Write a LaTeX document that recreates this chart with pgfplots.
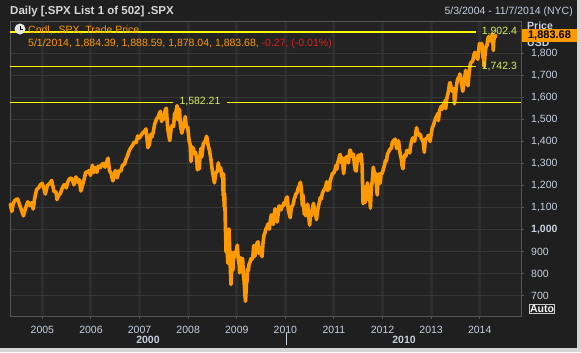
\documentclass[border=0pt]{standalone}
\usepackage{pgfplots}
\pgfplotsset{compat=1.18}
\usepackage{fontspec}
\setmainfont{Liberation Sans}
\definecolor{bgouter}{RGB}{31,31,31}
\definecolor{bgplot}{RGB}{35,35,35}
\definecolor{gridv}{RGB}{45,45,45}
\definecolor{gridh}{RGB}{54,54,54}
\definecolor{framec}{RGB}{85,85,85}
\definecolor{lbl}{RGB}{200,208,222}
\definecolor{titlec}{RGB}{215,215,215}
\definecolor{candle}{RGB}{255,153,0}
\definecolor{hline}{RGB}{250,250,0}
\definecolor{ylbl}{RGB}{215,240,90}
\definecolor{neg}{RGB}{225,30,30}
\newcommand\fs{\fontsize{10.5bp}{12bp}\selectfont}
\pgfplotstableread{
t v
2004.34 1117
2004.37 1084
2004.40 1121
2004.44 1136
2004.49 1141
2004.53 1115
2004.56 1096
2004.61 1064
2004.66 1104
2004.70 1128
2004.74 1111
2004.78 1124
2004.81 1095
2004.84 1143
2004.88 1183
2004.92 1191
2004.96 1206
2004.995 1212
2005.03 1190
2005.06 1163
2005.10 1202
2005.15 1211
2005.19 1225
2005.24 1174
2005.28 1173
2005.30 1138
2005.33 1156
2005.37 1166
2005.41 1191
2005.45 1206
2005.49 1191
2005.53 1222
2005.57 1236
2005.61 1232
2005.65 1205
2005.69 1241
2005.74 1215
2005.76 1228
2005.79 1177
2005.82 1199
2005.86 1231
2005.89 1262
2005.93 1263
2005.96 1270
2005.99 1248
2006.03 1294
2006.06 1261
2006.09 1283
2006.12 1262
2006.15 1290
2006.19 1283
2006.22 1297
2006.25 1302
2006.29 1285
2006.32 1309
2006.35 1326
2006.38 1270
2006.41 1259
2006.45 1223
2006.48 1250
2006.50 1270
2006.54 1237
2006.57 1268
2006.61 1266
2006.65 1295
2006.69 1299
2006.72 1321
2006.75 1336
2006.79 1362
2006.83 1377
2006.86 1386
2006.89 1400
2006.93 1397
2006.96 1427
2006.995 1418
2007.03 1430
2007.06 1440
2007.10 1448
2007.13 1459
2007.16 1399
2007.17 1374
2007.20 1387
2007.23 1435
2007.25 1421
2007.28 1444
2007.31 1480
2007.35 1505
2007.38 1512
2007.41 1531
2007.43 1539
2007.45 1493
2007.48 1512
2007.50 1504
2007.53 1548
2007.55 1553
2007.58 1458
2007.60 1433
2007.62 1406
2007.65 1463
2007.67 1474
2007.70 1471
2007.72 1529
2007.74 1526
2007.77 1565
2007.79 1500
2007.82 1549
2007.84 1475
2007.87 1440
2007.90 1469
2007.94 1515
2007.96 1468
2007.99 1468
2008.02 1404
2008.04 1390
2008.06 1311
2008.08 1378
2008.11 1367
2008.13 1349
2008.15 1353
2008.17 1331
2008.19 1273
2008.21 1330
2008.23 1277
2008.24 1330
2008.26 1370
2008.28 1332
2008.31 1390
2008.33 1397
2008.36 1410
2008.38 1426
2008.41 1385
2008.44 1360
2008.47 1318
2008.49 1280
2008.52 1239
2008.54 1214
2008.57 1260
2008.60 1267
2008.62 1305
2008.64 1277
2008.67 1282
2008.69 1242
2008.71 1252
2008.72 1156
2008.73 1255
2008.74 1106
2008.75 1166
2008.77 985
2008.78 899
2008.785 1003
2008.80 907
2008.82 848
2008.83 968
2008.84 1005
2008.86 873
2008.88 752
2008.89 800
2008.91 896
2008.92 816
2008.93 876
2008.95 899
2008.97 880
2008.99 903
2009.01 931
2009.03 870
2009.05 843
2009.06 805
2009.07 840
2009.08 874
2009.09 826
2009.11 868
2009.12 870
2009.13 827
2009.14 789
2009.15 770
2009.16 735
2009.17 700
2009.18 676
2009.20 757
2009.21 768
2009.22 822
2009.24 815
2009.25 842
2009.27 852
2009.29 869
2009.31 866
2009.33 877
2009.35 930
2009.37 880
2009.38 888
2009.40 920
2009.42 942
2009.44 946
2009.46 893
2009.48 919
2009.50 898
2009.52 879
2009.54 940
2009.56 976
2009.58 987
2009.60 1005
2009.62 1012
2009.64 1026
2009.66 1028
2009.67 1003
2009.69 1042
2009.71 1068
2009.73 1065
2009.75 1025
2009.77 1071
2009.79 1097
2009.81 1066
2009.83 1036
2009.85 1069
2009.87 1109
2009.89 1106
2009.91 1091
2009.93 1107
2009.95 1109
2009.97 1124
2009.995 1115
2010.02 1145
2010.04 1150
2010.06 1092
2010.08 1074
2010.10 1056
2010.12 1095
2010.14 1109
2010.16 1116
2010.18 1138
2010.20 1150
2010.22 1166
2010.24 1167
2010.26 1187
2010.28 1197
2010.30 1211
2010.31 1217
2010.33 1187
2010.35 1110
2010.36 1160
2010.37 1136
2010.39 1071
2010.40 1103
2010.42 1064
2010.44 1091
2010.46 1117
2010.47 1095
2010.49 1041
2010.50 1022
2010.52 1078
2010.54 1064
2010.56 1102
2010.58 1121
2010.60 1089
2010.62 1079
2010.64 1047
2010.66 1080
2010.68 1109
2010.70 1125
2010.72 1148
2010.74 1141
2010.76 1165
2010.78 1176
2010.80 1183
2010.83 1197
2010.85 1219
2010.87 1179
2010.89 1189
2010.91 1187
2010.92 1223
2010.95 1242
2010.97 1258
2010.995 1258
2011.02 1272
2011.04 1293
2011.06 1276
2011.08 1307
2011.10 1321
2011.12 1340
2011.13 1343
2011.14 1307
2011.16 1330
2011.18 1304
2011.20 1256
2011.22 1298
2011.24 1326
2011.26 1333
2011.28 1314
2011.30 1305
2011.31 1335
2011.33 1363
2011.34 1361
2011.36 1340
2011.38 1333
2011.40 1345
2011.42 1300
2011.44 1271
2011.46 1268
2011.48 1320
2011.50 1340
2011.52 1316
2011.54 1337
2011.56 1345
2011.58 1292
2011.59 1200
2011.60 1119
2011.61 1172
2011.62 1140
2011.64 1124
2011.66 1200
2011.67 1166
2011.69 1214
2011.71 1136
2011.73 1175
2011.75 1099
2011.77 1195
2011.79 1224
2011.81 1285
2011.83 1261
2011.85 1257
2011.87 1216
2011.89 1159
2011.91 1244
2011.93 1255
2011.95 1212
2011.97 1255
2011.995 1258
2012.02 1280
2012.04 1293
2012.06 1315
2012.08 1313
2012.10 1344
2012.12 1352
2012.14 1362
2012.16 1369
2012.18 1371
2012.20 1395
2012.22 1405
2012.24 1408
2012.26 1413
2012.27 1398
2012.29 1370
2012.31 1390
2012.33 1405
2012.35 1363
2012.37 1338
2012.39 1318
2012.40 1295
2012.42 1278
2012.44 1325
2012.46 1342
2012.48 1335
2012.50 1362
2012.52 1354
2012.54 1357
2012.56 1350
2012.58 1385
2012.60 1404
2012.62 1418
2012.64 1411
2012.66 1403
2012.68 1432
2012.70 1465
2012.72 1441
2012.74 1441
2012.76 1428
2012.78 1433
2012.80 1413
2012.82 1412
2012.84 1394
2012.86 1353
2012.88 1409
2012.90 1416
2012.92 1418
2012.94 1430
2012.96 1419
2012.98 1402
2012.995 1426
2013.02 1461
2013.04 1472
2013.06 1485
2013.08 1500
2013.10 1512
2013.12 1518
2013.14 1530
2013.15 1497
2013.17 1540
2013.19 1552
2013.21 1563
2013.23 1548
2013.25 1569
2013.27 1568
2013.29 1589
2013.30 1552
2013.32 1593
2013.34 1614
2013.36 1634
2013.38 1667
2013.39 1669
2013.41 1650
2013.43 1631
2013.45 1643
2013.47 1636
2013.48 1573
2013.50 1614
2013.52 1652
2013.54 1680
2013.56 1692
2013.58 1690
2013.59 1709
2013.61 1691
2013.63 1661
2013.65 1630
2013.67 1655
2013.69 1687
2013.71 1725
2013.73 1692
2013.75 1681
2013.76 1655
2013.78 1710
2013.80 1745
2013.82 1762
2013.84 1763
2013.86 1771
2013.88 1796
2013.90 1807
2013.92 1785
2013.94 1805
2013.96 1775
2013.98 1818
2013.995 1848
2014.01 1832
2014.03 1838
2014.04 1848
2014.05 1839
2014.07 1781
2014.08 1782
2014.09 1742
2014.11 1797
2014.12 1819
2014.14 1840
2014.15 1836
2014.16 1859
2014.18 1878
2014.19 1874
2014.21 1872
2014.22 1858
2014.23 1873
2014.24 1872
2014.26 1891
2014.27 1865
2014.28 1816
2014.29 1862
2014.31 1879
2014.32 1878
2014.33 1884
}\spx
\begin{document}
\begin{tikzpicture}[x=1bp,y=1bp]
\fill[white!83!black] (0,0) rectangle (581,352);
\fill[bgouter] (0,4) rectangle (577,352);
\begin{axis}[at={(10bp,36bp)}, anchor=south west, scale only axis,
  width=511bp, height=294bp,
  xmin=2004.333, xmax=2014.85, ymin=609, ymax=1945,
  clip=false,
  axis background/.style={fill=bgplot},
  axis line style={framec, line width=1bp},
  xtick={2005,2006,2007,2008,2009,2010,2011,2012,2013,2014},
  xticklabels={2005,2006,2007,2008,2009,2010,2011,2012,2013,2014},
  ytick={700,800,900,1000,1100,1200,1300,1400,1500,1600,1700,1800},
  yticklabels={700,800,900,{\textbf{1,000}},{1,100},{1,200},{1,300},{1,400},{1,500},{1,600},{1,700},{1,800}},
  extra y ticks={1900}, extra y tick labels={},
  xtick pos=left, ytick pos=right, yticklabel pos=right,
  tick align=outside, major tick length=3bp,
  every tick/.style={framec, line width=1bp},
  grid=major,
  x grid style={gridv, line width=3bp},
  y grid style={gridh, line width=1bp},
  xticklabel style={font=\fs, text=lbl, anchor=center, inner sep=0pt, yshift=-11bp},
  yticklabel style={font=\fs, text=lbl, anchor=west, inner sep=0pt, xshift=7bp},
]
\addplot[draw=candle, line width=3.6bp, line join=round, line cap=round] table[x=t, y=v] {\spx};
\addplot[draw=hline, line width=1.4bp, yshift=-0.5bp] coordinates {(2004.333,1902.4) (2013.92,1902.4)};
\addplot[draw=hline, line width=1.3bp] coordinates {(2004.333,1742.3) (2013.92,1742.3)};
\addplot[draw=hline, line width=1.3bp, yshift=-0.45bp] coordinates {(2004.333,1582.21) (2007.688,1582.21)};
\addplot[draw=hline, line width=1.3bp, yshift=-0.45bp] coordinates {(2008.799,1582.21) (2014.85,1582.21)};
\node[anchor=west, inner sep=0pt, font=\fs, text=ylbl] at (axis cs:2014.04,1902.4) {1,902.4};
\node[anchor=west, inner sep=0pt, font=\fs, text=ylbl] at (axis cs:2014.04,1742.3) {1,742.3};
\node[anchor=center, inner sep=0pt, font=\fs, text=ylbl] at (axis cs:2008.243,1582.21) {1,582.21};
\end{axis}
% header
\node[anchor=west, inner sep=0pt, text=titlec, font=\bfseries\fontsize{11.5bp}{13bp}\selectfont] at (10,340) {Daily [.SPX List 1 of 502] .SPX};
\node[anchor=east, inner sep=0pt, text=lbl, font=\fs] at (573,340) {5/3/2004 - 11/7/2014 (NYC)};
% legend
\fill[white!80!gray] (20,323) circle (5.5);
\draw[black, line width=0.8bp] (20,323) -- (20,326.5) (20,323) -- (22.5,323);
\node[anchor=west, inner sep=0pt, text=candle, font=\fs] at (28,322) {Cndl, .SPX, Trade Price};
\node[anchor=west, inner sep=0pt, font=\fs] at (28,308) {\textcolor{candle}{5/1/2014, 1,884.39, 1,888.59, 1,878.04, 1,883.68, }\textcolor{neg}{-0.27, (-0.01\%)}};
% right axis header
\node[anchor=west, inner sep=0pt, text=lbl, font=\bfseries\fs] at (527,326) {Price};
\node[anchor=west, inner sep=0pt, text=lbl, font=\bfseries\fs] at (527,309) {USD};
\node[fill=candle, inner sep=0pt, minimum width=55bp, minimum height=13bp, text=black, font=\bfseries\fontsize{11bp}{12bp}\selectfont] at (549.5,316.4) {1,883.68};
% auto box
\node[draw=white!60!gray, line width=1bp, inner sep=1bp, text=white!92!gray, font=\bfseries\fs] at (542,43) {Auto};
% lower level labels
\node[inner sep=0pt, text=lbl, font=\bfseries\fs] at (148,12) {2000};
\node[inner sep=0pt, text=lbl, font=\bfseries\fs] at (404,12) {2010};
\draw[lbl, line width=1bp] (286,7) -- (286,19);
\end{tikzpicture}
\end{document}
